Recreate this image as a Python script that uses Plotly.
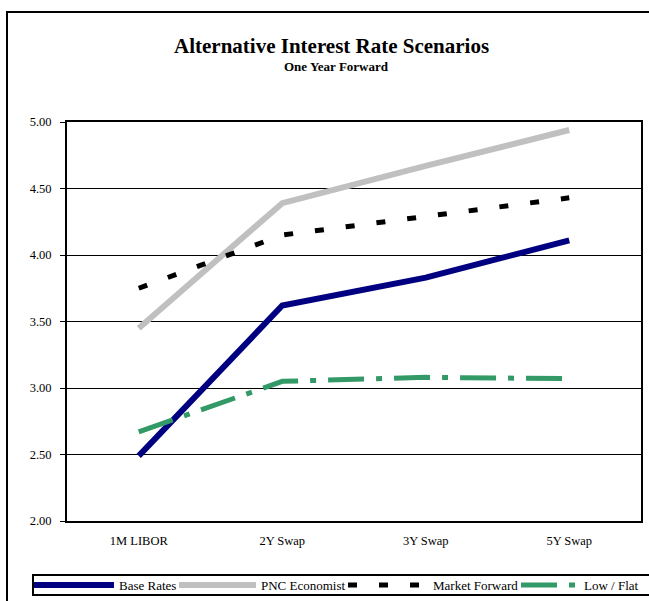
import plotly.graph_objects as go

# Tenors along the curve
tenors = ["1M LIBOR", "2Y Swap", "3Y Swap", "5Y Swap"]

# Rate scenarios (percent), one year forward
base_rates = [2.49, 3.62, 3.83, 4.11]
pnc_economist = [3.45, 4.39, 4.67, 4.94]
market_forward = [3.75, 4.15, 4.29, 4.43]
low_flat = [2.67, 3.05, 3.08, 3.07]

y_ticks = [2.0, 2.5, 3.0, 3.5, 4.0, 4.5, 5.0]

FONT = "Liberation Serif, Times New Roman, serif"

# plot-area pixel frame used to place decorations in paper units
L, R, T, B = 67, 641, 122, 521
W, H = R - L, B - T


def px(x):
    return (x - L) / W


def py(y):
    return (B - y) / H


fig = go.Figure()

fig.add_trace(go.Scatter(
    x=tenors, y=base_rates, name="Base Rates", mode="lines", legend="legend",
    line=dict(color="#000080", width=6)))
fig.add_trace(go.Scatter(
    x=tenors, y=pnc_economist, name="PNC Economist", mode="lines", legend="legend2",
    line=dict(color="#C0C0C0", width=6)))
fig.add_trace(go.Scatter(
    x=tenors, y=market_forward, name="Market Forward", mode="lines", legend="legend3",
    line=dict(color="#000000", width=5, dash="9px,22px")))
fig.add_trace(go.Scatter(
    x=tenors, y=low_flat, name="Low / Flat", mode="lines", legend="legend4",
    line=dict(color="#339966", width=5, dash="36px,12px,6px,12px")))

# outer chart-area frame
fig.add_shape(type="rect", xref="paper", yref="paper",
              x0=px(7), x1=px(662), y0=py(614), y1=py(12),
              line=dict(color="black", width=2), layer="below")
# frame around the legend strip
fig.add_shape(type="rect", xref="paper", yref="paper",
              x0=px(33), x1=px(672), y0=py(595), y1=py(575),
              line=dict(color="black", width=2), layer="below")

fig.add_annotation(text="<b>Alternative Interest Rate Scenarios</b>",
                   xref="paper", yref="paper", x=px(331), y=py(46),
                   showarrow=False, font=dict(family=FONT, size=21, color="black"),
                   xanchor="center", yanchor="middle")
fig.add_annotation(text="<b>One Year Forward</b>",
                   xref="paper", yref="paper", x=px(336), y=py(66),
                   showarrow=False, font=dict(family=FONT, size=13, color="black"),
                   xanchor="center", yanchor="middle")


def legend_at(x_px, item_w):
    return dict(orientation="h", x=px(x_px), y=py(585), xanchor="left", yanchor="middle",
                borderwidth=0, bgcolor="rgba(0,0,0,0)",
                font=dict(family=FONT, size=13, color="black"),
                itemwidth=item_w, tracegroupgap=0)


fig.update_layout(
    width=649, height=601,
    margin=dict(l=L, r=649 - R, t=T, b=601 - B, autoexpand=False),
    paper_bgcolor="white", plot_bgcolor="white",
    font=dict(family=FONT, size=12.5, color="black"),
    showlegend=True,
    legend=legend_at(29, 80),
    legend2=legend_at(174, 77),
    legend3=legend_at(343, 80),
    legend4=legend_at(516, 58),
)

fig.update_xaxes(type="category", range=[-0.5, 3.5], showgrid=False,
                 showline=True, mirror=True, linecolor="black", linewidth=2,
                 ticks="", ticklabelstandoff=7,
                 tickfont=dict(family=FONT, size=12.5), fixedrange=True)
fig.update_yaxes(range=[2, 5], tickvals=y_ticks, tickformat=".2f",
                 showgrid=True, gridcolor="black", gridwidth=1,
                 showline=True, mirror=True, linecolor="black", linewidth=2,
                 ticks="outside", ticklen=5, tickcolor="black", tickwidth=1,
                 ticklabelstandoff=6,
                 zeroline=False, tickfont=dict(family=FONT, size=12.5), fixedrange=True)

fig.write_html("out.html")
